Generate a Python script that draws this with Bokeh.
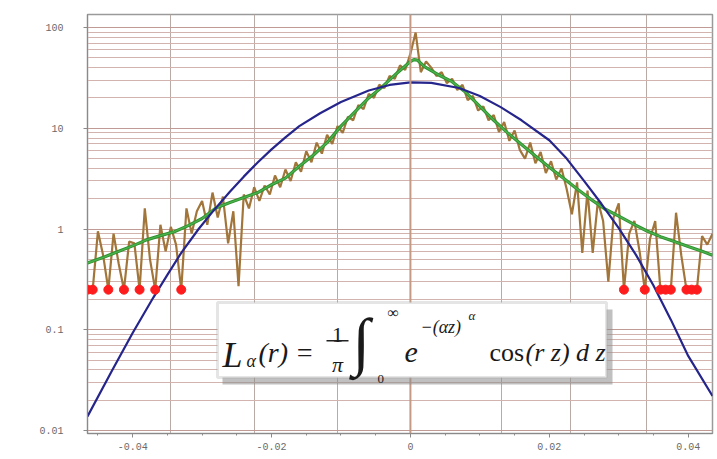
import numpy as np
from bokeh.plotting import figure
from bokeh.models import (FixedTicker, CustomJSTickFormatter, Label, BoxAnnotation, Span, Range1d)
from bokeh.embed import file_html
from bokeh.resources import INLINE

# ---------------- data ----------------
# measured histogram (brown), bins from -0.0465 to 0.0435
hist_x_start = -0.0465
hist_x_end = 0.0435
hist_y = [0.25, 0.25, 0.95, 0.55, 0.25, 0.9, 0.45, 0.25, 0.75, 0.72,
          0.25, 1.6, 0.5, 0.25, 1.1, 0.6, 1.05, 0.7, 0.25, 1.6,
          0.9, 1.5, 1.9, 1.1, 2.3, 1.3, 2.1, 0.72, 1.5, 0.27,
          2.2, 1.6, 2.6, 1.9, 2.7, 2.2, 3.4, 2.6, 3.9, 3.0,
          4.6, 3.7, 5.9, 4.6, 7.2, 5.6, 8.6, 7.0, 10.5, 9.0,
          13, 12, 17, 15.5, 22, 20, 27, 25, 33, 31,
          42, 38, 55, 89, 36, 46, 40, 33, 36, 28,
          31, 24, 27, 19, 21, 15, 16.5, 12, 13.5, 9.2,
          11.5, 7.5, 9.5, 6.1, 5.0, 7.2, 4.5, 5.8, 3.6, 4.7,
          3.1, 4.0, 2.5, 1.4, 2.9, 0.58, 2.4, 0.58, 1.9, 1.2,
          0.3, 1.3, 1.8, 0.25, 0.9, 1.2, 0.6, 0.25, 0.8, 1.2,
          0.25, 0.25, 0.25, 1.45, 0.55, 0.25, 0.25, 0.25, 0.85, 0.7,
          0.9]

# empty bins (red dots)
zero_x = [-0.0465, -0.04575, -0.0435, -0.04125, -0.039, -0.03675, -0.033,
          0.03075, 0.03375, 0.036, 0.03675, 0.0375, 0.03975, 0.0405, 0.04125]
zero_level = 0.25

# Levy stable fit (green)
levy_x = [-0.0465, -0.044, -0.042, -0.040, -0.038, -0.036, -0.034, -0.032, -0.030,
          -0.028, -0.026, -0.024, -0.022, -0.020, -0.018, -0.016, -0.014, -0.012,
          -0.010, -0.008, -0.006, -0.004, -0.002, 0.0, 0.0005, 0.001, 0.002, 0.004,
          0.006, 0.008, 0.010, 0.012, 0.014, 0.016, 0.018, 0.020, 0.022, 0.024,
          0.026, 0.028, 0.030, 0.032, 0.034, 0.036, 0.038, 0.040, 0.042, 0.0435]
levy_y = [0.46, 0.53, 0.6, 0.68, 0.78, 0.86, 0.94, 1.08, 1.27,
          1.62, 1.83, 2.05, 2.3, 2.75, 3.2, 4.2, 5.4, 7.2,
          10.5, 14.5, 20, 26, 35, 46, 48, 47.5, 41, 34,
          29, 22.6, 16.5, 12, 9.0, 6.9, 5.3, 4.1, 3.2, 2.5,
          1.97, 1.58, 1.34, 1.13, 0.96, 0.84, 0.75, 0.67, 0.6, 0.55]

# Gaussian fit (blue)
gauss_x = [-0.0465, -0.043, -0.040, -0.037, -0.035, -0.033, -0.0305, -0.0285, -0.026,
           -0.024, -0.022, -0.020, -0.018, -0.016, -0.013, -0.010, -0.006, -0.003,
           0.0, 0.003, 0.007, 0.010, 0.013, 0.016, 0.020, 0.0225, 0.025, 0.0275,
           0.030, 0.0325, 0.035, 0.0375, 0.040, 0.0435]
gauss_y = [0.0138, 0.039, 0.093, 0.21, 0.35, 0.58, 1.0, 1.48, 2.34,
           3.31, 4.57, 6.17, 8.13, 10.5, 14.1, 18.2, 23.7, 26.9,
           28.5, 28.2, 25.1, 20.9, 16.2, 12.0, 7.6, 5.0, 3.0, 1.78,
           1.02, 0.55, 0.275, 0.126, 0.055, 0.022]

x_major_ticks = [-0.04, -0.02, 0.0, 0.02, 0.04]
x_grid_lines = [-0.0345, -0.0225, -0.0105, 0.0, 0.0131, 0.023, 0.034]
y_major_ticks = [0.01, 0.1, 1, 10, 100]

# ---------------- figure ----------------
W, H = 717, 459
FL, FR, FT, FB = 87, 712, 14, 433
X0, X1 = -0.0465, 0.0435
Y0, Y1 = 0.00934, 134.6

p = figure(width=W, height=H, output_backend="svg", toolbar_location=None,
           y_axis_type="log", x_range=Range1d(X0, X1), y_range=Range1d(Y0, Y1),
           min_border_left=FL, min_border_right=W - FR, min_border_top=FT,
           min_border_bottom=H - FB)
p.background_fill_color = "white"
p.border_fill_color = "white"
p.outline_line_color = "#9a9a9a"
p.outline_line_width = 1.5


def fx(px):
    return X0 + (px - FL) * (X1 - X0) / (FR - FL)


def fy(py):
    l0, l1 = np.log10(Y0), np.log10(Y1)
    return float(10 ** (l1 - (py - FT) / (FB - FT) * (l1 - l0)))


# grids
minor_y = [k * 10.0 ** e for e in range(-3, 3) for k in range(2, 10)]
p.yaxis.ticker = FixedTicker(ticks=y_major_ticks, minor_ticks=minor_y)
p.ygrid.grid_line_color = "#c09a94"
p.ygrid.grid_line_width = 1
p.ygrid.minor_grid_line_color = "#d2b3ae"
p.ygrid.minor_grid_line_width = 1

p.xaxis.ticker = FixedTicker(ticks=x_major_ticks,
                             minor_ticks=[-0.045, -0.035, -0.03, -0.025, -0.015, -0.01, -0.005,
                                          0.005, 0.01, 0.015, 0.025, 0.03, 0.035])
p.xgrid.ticker = FixedTicker(ticks=x_grid_lines)
p.xgrid.grid_line_color = "#b9aaa5"
p.xgrid.grid_line_width = 1

p.add_layout(Span(location=0.0, dimension="height", line_color="#c49a84", line_width=2))

# axes styling
for ax in (p.xaxis[0], p.yaxis[0]):
    ax.axis_line_color = "#8a8a8a"
    ax.major_tick_line_color = "#8a8a8a"
    ax.minor_tick_line_color = "#8a8a8a"
    ax.major_tick_out = 4
    ax.major_tick_in = 0
    ax.minor_tick_out = 2
    ax.minor_tick_in = 0
    ax.major_label_text_font = "Liberation Mono"
    ax.major_label_text_font_size = "10px"
    ax.major_label_text_color = "#6a6a6a"

p.yaxis.major_label_standoff = 20
p.xaxis.major_label_standoff = 5
p.yaxis.minor_tick_line_color = None
p.yaxis.formatter = CustomJSTickFormatter(code="return tick >= 1 ? tick.toFixed(0) : String(tick);")
p.xaxis.formatter = CustomJSTickFormatter(code="return tick == 0 ? '0' : tick.toFixed(2);")

# ---------------- data glyphs ----------------
hist_x = np.linspace(hist_x_start, hist_x_end, len(hist_y))
p.line(hist_x, hist_y, line_color="#a2763a", line_width=2.2)
p.line(levy_x, levy_y, line_color="#2f8f2f", line_width=3.2)
p.line(levy_x, levy_y, line_color="#4cb34c", line_width=1.4)
p.line(gauss_x, gauss_y, line_color="#25258c", line_width=2.2)
p.scatter(zero_x, [zero_level] * len(zero_x), size=9, color="#ff1c1c", line_color="#ff1c1c")

# ---------------- formula box ----------------
p.add_layout(BoxAnnotation(left=fx(222), right=fx(612), top=fy(309), bottom=fy(384),
                           fill_color="#8c8c8c", fill_alpha=0.55, line_color=None))
p.add_layout(BoxAnnotation(left=fx(217), right=fx(606), top=fy(302), bottom=fy(377),
                           fill_color="white", fill_alpha=1.0, line_color="#a8a8a8", line_width=3))
p.add_layout(BoxAnnotation(left=fx(326), right=fx(348), top=fy(339.5), bottom=fy(341),
                           fill_color="#222222", fill_alpha=1.0, line_color=None))

serif = "Liberation Serif"
parts = [
    # text, px, py(baseline), size, style, align
    ("L", 222, 354, "36px", "italic", "left"),
    ("α", 246, 360, "18px", "italic", "left"),
    ("(r) =", 258, 352, "28px", "italic", "left"),
    ("1", 337, 334, "22px", "normal", "center"),
    ("π", 337, 364, "22px", "italic", "center"),
    ("∫", 352, 341, "64px", "normal", "left"),
    ("0", 377, 378, "13px", "normal", "left"),
    ("∞", 387, 312, "16px", "normal", "left"),
    ("e", 404, 352, "30px", "italic", "left"),
    ("−(αz)", 420, 326, "18px", "italic", "left"),
    ("α", 468, 315, "13px", "italic", "left"),
    ("cos", 489, 352, "26px", "normal", "left"),
    ("(r z) d z", 525, 352, "26px", "italic", "left"),
]
for txt, px, py, size, style, align in parts:
    p.add_layout(Label(x=fx(px), y=fy(py), text=txt, text_font=serif,
                       text_font_size=size, text_font_style=style,
                       text_align=align, text_baseline="alphabetic",
                       text_color="#1a1a1a"))

open("out.html", "w").write(file_html(p, INLINE))
